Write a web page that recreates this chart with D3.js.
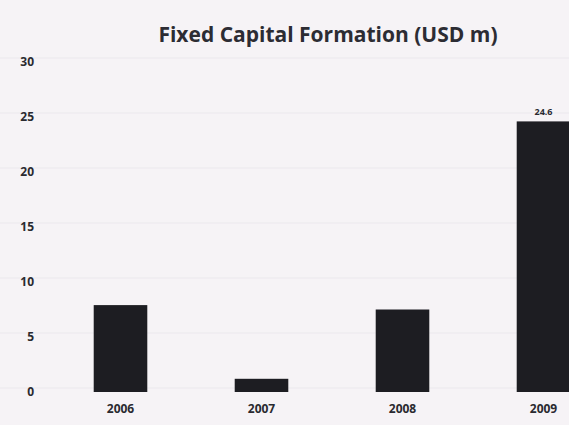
<!DOCTYPE html>
<html>
<head>
<meta charset="utf-8">
<script src="https://cdn.jsdelivr.net/npm/d3@7"></script>
<style>
  body { margin: 0; background: #f6f3f6; }
  svg { display: block; font-family: "Open Sans", sans-serif; }
  .tick text { font-weight: bold; fill: #2a2a30; font-family: "Open Sans", sans-serif; }
</style>
</head>
<body>
<script>
// chart data
var years = ["2006", "2007", "2008", "2009"];
var values = [7.9, 1.2, 7.5, 24.6];
var labels = ["", "", "", "24.6"];
var yTicks = [0, 5, 10, 15, 20, 25, 30];

var W = 569, H = 425;
var margin = {top: 62, right: -45, bottom: 33, left: 50};

var svg = d3.select("body").append("svg")
    .attr("width", W)
    .attr("height", H);

var x = d3.scaleBand()
    .domain(years)
    .range([margin.left, W - margin.right])
    .paddingInner(0.62)
    .paddingOuter(0.31);

var y = d3.scaleLinear()
    .domain([0, 30])
    .range([H - margin.bottom, margin.top]);

// faint gridlines (barely visible in the scan)
svg.append("g")
  .selectAll("line")
  .data(yTicks)
  .enter().append("line")
    .attr("x1", 0)
    .attr("x2", W)
    .attr("y1", function(d) { return y(d) - 4; })
    .attr("y2", function(d) { return y(d) - 4; })
    .attr("stroke", "#ebe8ed")
    .attr("stroke-width", 1);

// y axis, labels only
var yAxis = svg.append("g")
    .attr("transform", "translate(34,0)")
    .call(d3.axisLeft(y).tickValues(yTicks).tickSize(0).tickPadding(0));
yAxis.select(".domain").remove();
yAxis.selectAll("text").style("font-size", "12px");

// bars
svg.append("g")
  .selectAll("rect")
  .data(values)
  .enter().append("rect")
    .attr("x", function(d, i) { return x(years[i]); })
    .attr("y", function(d) { return y(d); })
    .attr("width", x.bandwidth())
    .attr("height", function(d) { return y(0) - y(d); })
    .attr("fill", "#1d1d22");

// value label on top of bar
svg.append("g")
  .selectAll("text")
  .data(values)
  .enter().append("text")
    .attr("x", function(d, i) { return x(years[i]) + x.bandwidth() / 2; })
    .attr("y", function(d) { return y(d) - 6; })
    .attr("text-anchor", "middle")
    .style("font-size", "9px")
    .style("font-weight", "bold")
    .attr("fill", "#2a2a30")
    .text(function(d, i) { return labels[i]; });

// x axis, labels only
var xAxis = svg.append("g")
    .attr("transform", "translate(0," + (y(0) + 8) + ")")
    .call(d3.axisBottom(x).tickSize(0).tickPadding(4));
xAxis.select(".domain").remove();
xAxis.selectAll("text").style("font-size", "12px");

// title
svg.append("text")
    .attr("x", 328)
    .attr("y", 42)
    .attr("text-anchor", "middle")
    .style("font-size", "21px")
    .style("font-weight", "bold")
    .attr("fill", "#2c2c33")
    .text("Fixed Capital Formation (USD m)");
</script>
</body>
</html>
